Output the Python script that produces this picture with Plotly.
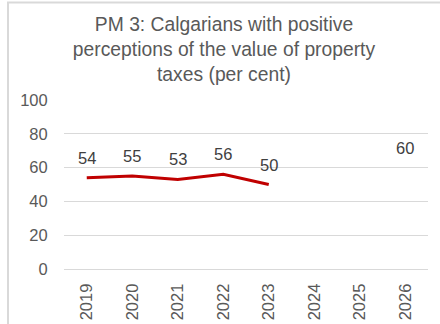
import plotly.graph_objects as go

years = ["2019", "2020", "2021", "2022", "2023", "2024", "2025", "2026"]
actual_years = ["2019", "2020", "2021", "2022", "2023"]
actual_values = [54, 55, 53, 56, 50]
target_year = "2026"
target_value = 60
y_ticks = [0, 20, 40, 60, 80, 100]

GREY = "#595959"
FONT = "Liberation Sans, Arial, sans-serif"

W, H = 440, 324
ML, MR, MT, MB = 64, 12, 100, 55

fig = go.Figure()
fig.add_trace(go.Scatter(
    x=actual_years, y=actual_values, mode="lines",
    line=dict(color="#C00000", width=3), hoverinfo="skip", showlegend=False,
))
# target point: label only, no visible marker
fig.add_trace(go.Scatter(
    x=[target_year], y=[target_value], mode="markers",
    marker=dict(size=1, opacity=0), hoverinfo="skip", showlegend=False,
))

# value labels above each point (category index used for annotation x)
labels = list(zip(actual_years, actual_values)) + [(target_year, target_value)]
for xv, yv in labels:
    fig.add_annotation(
        x=years.index(xv), y=yv, xref="x", yref="y", text=str(yv),
        showarrow=False, yshift=20,
        font=dict(size=16.5, color="#404040", family=FONT),
    )

# chart frame (left and top edges)
pw, ph = W - ML - MR, H - MT - MB
def px_x(p):
    return (p - ML) / pw
def px_y(p):
    return (H - MB - p) / ph

fig.add_shape(type="line", xref="paper", yref="paper", x0=px_x(8), x1=px_x(8),
              y0=px_y(2), y1=px_y(H), line=dict(color="#D9D9D9", width=2))
fig.add_shape(type="line", xref="paper", yref="paper", x0=px_x(7), x1=px_x(W),
              y0=px_y(2.5), y1=px_y(2.5), line=dict(color="#D9D9D9", width=2))

fig.update_layout(
    width=W, height=H,
    margin=dict(l=ML, r=MR, t=MT, b=MB, autoexpand=False),
    paper_bgcolor="white", plot_bgcolor="white",
    font=dict(family=FONT, color=GREY, size=16.5),
    title=dict(
        text="PM 3: Calgarians with positive<br>perceptions of the value of property<br>taxes (per cent)",
        x=224 / W, xanchor="center", xref="container",
        y=1 - 31 / H, yanchor="top", yref="container",
        font=dict(size=19.3, color=GREY, family=FONT),
    ),
    xaxis=dict(
        type="category", categoryorder="array", categoryarray=years,
        range=[-0.5, len(years) - 0.5], tickangle=-90, automargin=False,
        showgrid=False, showline=False, zeroline=False,
        ticks="outside", ticklen=7, tickcolor="rgba(0,0,0,0)",
        tickfont=dict(size=16.5, color=GREY),
        fixedrange=True,
    ),
    yaxis=dict(
        range=[0, 100], tickvals=y_ticks, showgrid=True, gridcolor="#D9D9D9",
        gridwidth=1, zeroline=True, zerolinecolor="#D9D9D9", zerolinewidth=1,
        showline=False, ticks="outside", ticklen=12, tickcolor="rgba(0,0,0,0)",
        tickfont=dict(size=16.5, color=GREY), fixedrange=True, automargin=False,
    ),
)

fig.write_html("out.html")
